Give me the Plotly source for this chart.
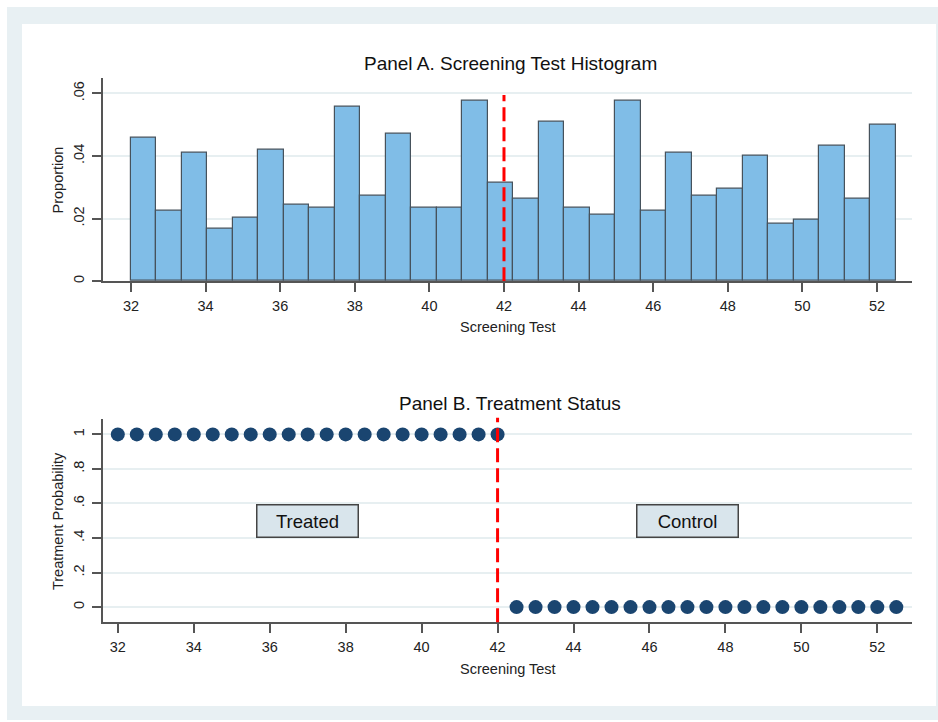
import plotly.graph_objects as go

# ---- data -------------------------------------------------------------
# Histogram of screening test scores (30 equal-width bins from 32 to 52.5)
bin_start = 32.0
bin_end = 52.5
proportions = [0.0459, 0.0226, 0.0411, 0.0166, 0.0204, 0.0421, 0.0244, 0.0235,
               0.0558, 0.0272, 0.0470, 0.0235, 0.0235, 0.0577, 0.0313, 0.0264,
               0.0508, 0.0235, 0.0213, 0.0577, 0.0226, 0.0411, 0.0272, 0.0294,
               0.0401, 0.0185, 0.0195, 0.0432, 0.0264, 0.0499]

# Treatment status by score
treated_scores = [32, 32.5, 33, 33.5, 34, 34.5, 35, 35.5, 36, 36.5, 37, 37.5,
                  38, 38.5, 39, 39.5, 40, 40.5, 41, 41.5, 42]
treated_prob = [1] * len(treated_scores)
control_scores = [42.5, 43, 43.5, 44, 44.5, 45, 45.5, 46, 46.5, 47, 47.5, 48,
                  48.5, 49, 49.5, 50, 50.5, 51, 51.5, 52, 52.5]
control_prob = [0] * len(control_scores)

cutoff = 42
x_ticks = [32, 34, 36, 38, 40, 42, 44, 46, 48, 50, 52]
ya_ticks = [0, 0.02, 0.04, 0.06]
ya_labels = ["0", ".02", ".04", ".06"]
yb_ticks = [0, 0.2, 0.4, 0.6, 0.8, 1]
yb_labels = ["0", ".2", ".4", ".6", ".8", "1"]

# ---- styling ----------------------------------------------------------
W, H = 938, 722
FONT = "Liberation Sans, Arial, Helvetica, sans-serif"
BAR_FILL = "#80bde7"
BAR_LINE = "#46525c"
DOT = "#1a4570"
AXIS = "#555555"
GRID = "#e7eff1"
FRAME = "#e8f0f3"
BOX_FILL = "#d9e5ec"


def px_x(p):
    return p / W


def px_y(p):
    return 1 - p / H


nbins = len(proportions)
width = (bin_end - bin_start) / nbins
centers = [bin_start + width * (i + 0.5) for i in range(nbins)]

fig = go.Figure()

fig.add_trace(go.Bar(
    x=centers, y=proportions, width=width,
    marker=dict(color=BAR_FILL, line=dict(color=BAR_LINE, width=1.2)),
    xaxis="x", yaxis="y", showlegend=False, hoverinfo="skip",
))

fig.add_trace(go.Scatter(
    x=treated_scores, y=treated_prob, mode="markers",
    marker=dict(color=DOT, size=14, line=dict(width=0)),
    xaxis="x2", yaxis="y2", showlegend=False,
))
fig.add_trace(go.Scatter(
    x=control_scores, y=control_prob, mode="markers",
    marker=dict(color=DOT, size=14, line=dict(width=0)),
    xaxis="x2", yaxis="y2", showlegend=False,
))

x_dom = [px_x(103), px_x(911.7)]
tick_font = dict(family=FONT, size=14.5, color="#222222")

common_x = dict(
    showline=True, linecolor=AXIS, linewidth=1.5,
    ticks="outside", ticklen=9, tickwidth=1.5, tickcolor=AXIS,
    showgrid=False, zeroline=False, tickvals=x_ticks, tickfont=tick_font,
    ticklabelstandoff=2,
)
common_y = dict(
    showline=True, linecolor=AXIS, linewidth=1.5,
    ticks="outside", ticklen=9, tickwidth=1.5, tickcolor=AXIS,
    showgrid=True, gridcolor=GRID, gridwidth=1.5, zeroline=False,
    tickangle=-90, tickfont=tick_font, ticklabelstandoff=2,
)

fig.update_layout(
    width=W, height=H,
    margin=dict(l=0, r=0, t=0, b=0),
    paper_bgcolor="white",
    plot_bgcolor="rgba(0,0,0,0)",
    font=dict(family=FONT, color="#111111"),
    xaxis=dict(domain=x_dom, range=[31.25, 52.93], anchor="y", **common_x),
    yaxis=dict(domain=[px_y(282), px_y(78)], range=[0, 0.065], anchor="x",
               tickvals=ya_ticks, ticktext=ya_labels, **common_y),
    xaxis2=dict(domain=x_dom, range=[31.61, 52.905], anchor="y2", **common_x),
    yaxis2=dict(domain=[px_y(624), px_y(420)], range=[-0.088, 1.09], anchor="x2",
                tickvals=yb_ticks, ticktext=yb_labels, **common_y),
    bargap=0,
)

# outer frame and inner white panel
fig.add_shape(type="rect", xref="paper", yref="paper",
              x0=px_x(7), x1=1, y0=0, y1=px_y(7),
              fillcolor=FRAME, line=dict(width=0), layer="below")
fig.add_shape(type="rect", xref="paper", yref="paper",
              x0=px_x(22), x1=px_x(936), y0=px_y(708), y1=px_y(24),
              fillcolor="white", line=dict(width=0), layer="below")

# cutoff lines
fig.add_shape(type="line", xref="x", yref="y", x0=cutoff, x1=cutoff,
              y0=0, y1=0.0595, line=dict(color="#ff0000", width=3, dash="14px,6px"))
fig.add_shape(type="line", xref="x2", yref="paper", x0=cutoff, x1=cutoff,
              y0=px_y(624), y1=px_y(419), line=dict(color="#ff0000", width=3, dash="14px,6px"))

title_font = dict(family=FONT, size=19, color="#111111")
axis_title_font = dict(family=FONT, size=14.5, color="#222222")

annotations = [
    dict(text="Panel A. Screening Test Histogram", x=px_x(510.5), y=px_y(64),
         font=title_font),
    dict(text="Panel B. Treatment Status", x=px_x(510), y=px_y(405),
         font=title_font),
    dict(text="Screening Test", x=px_x(508), y=px_y(328), font=axis_title_font),
    dict(text="Screening Test", x=px_x(508), y=px_y(670.5), font=axis_title_font),
    dict(text="Proportion", x=px_x(58), y=px_y(181), textangle=-90,
         font=axis_title_font),
    dict(text="Treatment Probability", x=px_x(58), y=px_y(522.5), textangle=-90,
         font=axis_title_font),
]
for a in annotations:
    a.update(xref="paper", yref="paper", xanchor="center", yanchor="middle",
             showarrow=False)
    fig.add_annotation(**a)

for label, xpos in [("Treated", 37), ("Control", 47)]:
    fig.add_annotation(
        text=label, x=xpos, y=0.5, xref="x2", yref="y2", showarrow=False,
        xanchor="center", yanchor="middle",
        font=dict(family=FONT, size=18.5, color="#111111"),
        bgcolor=BOX_FILL, bordercolor="#444444", borderwidth=1.5,
        width=96, height=27, borderpad=2,
    )

fig.write_html("out.html")
